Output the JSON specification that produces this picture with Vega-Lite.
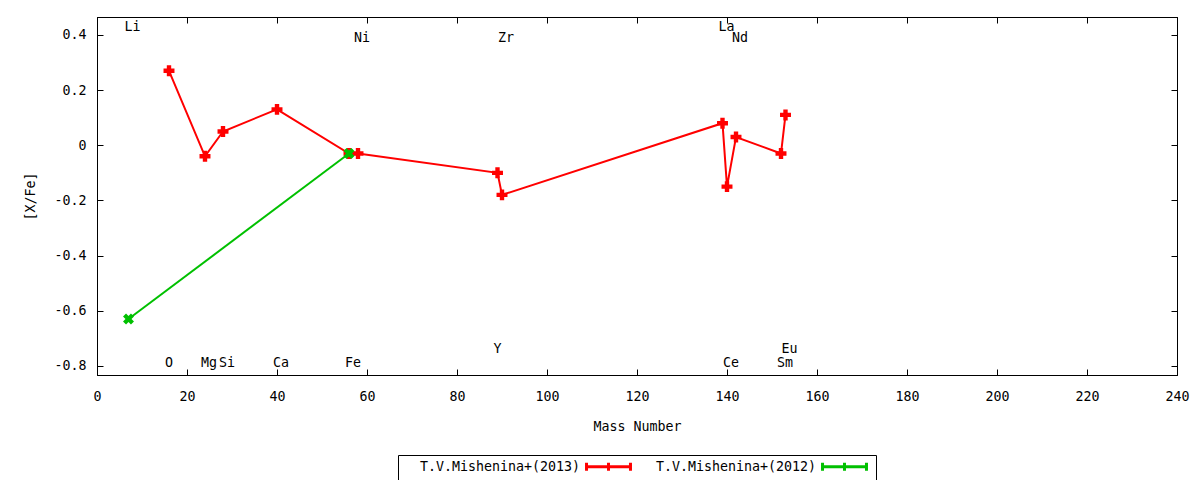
{
  "$schema": "https://vega.github.io/schema/vega-lite/v6.json",
  "width": 1080,
  "height": 358,
  "autosize": "none",
  "padding": {"left": 97, "top": 17, "right": 23, "bottom": 105},
  "background": "white",
  "config": {
    "font": "DejaVu Sans Mono",
    "view": {"stroke": "black", "strokeWidth": 1},
    "axis": {
      "domainColor": "black",
      "tickColor": "black",
      "tickSize": -6,
      "grid": false,
      "labelFlush": false,
      "labelFont": "DejaVu Sans Mono",
      "labelFontSize": 13.3,
      "labelColor": "black",
      "titleFont": "DejaVu Sans Mono",
      "titleFontSize": 13.3,
      "titleFontWeight": "normal",
      "titleColor": "black"
    },
    "legend": {
      "labelFont": "DejaVu Sans Mono",
      "labelFontSize": 13.3,
      "labelColor": "black",
      "labelLimit": 0
    }
  },
  "datasets": {
    "abund": [
      {"element": "O", "mass": 16, "xfe": 0.27, "series": "T.V.Mishenina+(2013)"},
      {"element": "Mg", "mass": 24, "xfe": -0.04, "series": "T.V.Mishenina+(2013)"},
      {"element": "Si", "mass": 28, "xfe": 0.05, "series": "T.V.Mishenina+(2013)"},
      {"element": "Ca", "mass": 40, "xfe": 0.13, "series": "T.V.Mishenina+(2013)"},
      {"element": "Fe", "mass": 56, "xfe": -0.03, "series": "T.V.Mishenina+(2013)"},
      {"element": "Ni", "mass": 58, "xfe": -0.03, "series": "T.V.Mishenina+(2013)"},
      {"element": "Y", "mass": 89, "xfe": -0.10, "series": "T.V.Mishenina+(2013)"},
      {"element": "Zr", "mass": 90, "xfe": -0.18, "series": "T.V.Mishenina+(2013)"},
      {"element": "La", "mass": 139, "xfe": 0.08, "series": "T.V.Mishenina+(2013)"},
      {"element": "Ce", "mass": 140, "xfe": -0.15, "series": "T.V.Mishenina+(2013)"},
      {"element": "Nd", "mass": 142, "xfe": 0.03, "series": "T.V.Mishenina+(2013)"},
      {"element": "Sm", "mass": 152, "xfe": -0.03, "series": "T.V.Mishenina+(2013)"},
      {"element": "Eu", "mass": 153, "xfe": 0.11, "series": "T.V.Mishenina+(2013)"},
      {"element": "Li", "mass": 7, "xfe": -0.63, "series": "T.V.Mishenina+(2012)"},
      {"element": "Fe", "mass": 56, "xfe": -0.03, "series": "T.V.Mishenina+(2012)"}
    ],
    "labels": [
      {"element": "Li", "mass": 7, "ypos": 0.429},
      {"element": "Ni", "mass": 58, "ypos": 0.389},
      {"element": "Zr", "mass": 90, "ypos": 0.389},
      {"element": "La", "mass": 139, "ypos": 0.429},
      {"element": "Nd", "mass": 142, "ypos": 0.389},
      {"element": "O", "mass": 16, "ypos": -0.789},
      {"element": "Mg", "mass": 24, "ypos": -0.789},
      {"element": "Si", "mass": 28, "ypos": -0.789},
      {"element": "Ca", "mass": 40, "ypos": -0.789},
      {"element": "Fe", "mass": 56, "ypos": -0.789},
      {"element": "Y", "mass": 89, "ypos": -0.738},
      {"element": "Ce", "mass": 140, "ypos": -0.789},
      {"element": "Sm", "mass": 152, "ypos": -0.789},
      {"element": "Eu", "mass": 153, "ypos": -0.738}
    ]
  },
  "layer": [
    {
      "data": {"name": "abund"},
      "mark": {"type": "line", "strokeWidth": 2},
      "encoding": {
        "x": {
          "field": "mass", "type": "quantitative",
          "scale": {"domain": [0, 240], "nice": false},
          "axis": {"values": [0, 20, 40, 60, 80, 100, 120, 140, 160, 180, 200, 220, 240],
                   "title": "Mass Number", "labelPadding": 20, "titlePadding": 17}
        },
        "y": {
          "field": "xfe", "type": "quantitative",
          "scale": {"domain": [-0.833, 0.465], "nice": false, "zero": false},
          "axis": {"values": [-0.8, -0.6, -0.4, -0.2, 0, 0.2, 0.4],
                   "labelExpr": "toString(round(datum.value * 10) / 10)",
                   "title": "[X/Fe]", "labelPadding": 17, "titlePadding": 16}
        },
        "stroke": {
          "field": "series", "type": "nominal",
          "scale": {"domain": ["T.V.Mishenina+(2013)", "T.V.Mishenina+(2012)"], "range": ["#ff0000", "#00c000"]},
          "legend": {
            "title": null,
            "orient": "none",
            "direction": "horizontal",
            "legendX": 301,
            "legendY": 438,
            "strokeColor": "black",
            "padding": 3,
            "symbolType": "M-3.14,0H3.14M-3.14,-0.57V0.57M3.14,-0.57V0.57M-0.5,0H0.5M0,-0.57V0.57",
            "symbolSize": 196,
            "symbolStrokeWidth": 3,
            "symbolOffset": 199,
            "labelOffset": -197,
            "columnPadding": 0
          }
        },
        "detail": {"field": "series"},
        "order": {"field": "mass", "type": "quantitative"}
      }
    },
    {
      "data": {"name": "abund"},
      "transform": [{"filter": "datum.series == 'T.V.Mishenina+(2013)'"}],
      "mark": {"type": "point", "filled": true, "size": 120, "opacity": 1, "shape": "cross", "color": "#ff0000"},
      "encoding": {
        "x": {"field": "mass", "type": "quantitative", "axis": null},
        "y": {"field": "xfe", "type": "quantitative", "axis": null}
      }
    },
    {
      "data": {"name": "abund"},
      "transform": [{"filter": "datum.series == 'T.V.Mishenina+(2012)'"}],
      "mark": {"type": "point", "filled": true, "size": 120, "opacity": 1, "color": "#00c000",
               "shape": "M-1,-0.45L-0.45,-1L0,-0.55L0.45,-1L1,-0.45L0.55,0L1,0.45L0.45,1L0,0.55L-0.45,1L-1,0.45L-0.55,0Z"},
      "encoding": {
        "x": {"field": "mass", "type": "quantitative", "axis": null},
        "y": {"field": "xfe", "type": "quantitative", "axis": null}
      }
    },
    {
      "data": {"name": "labels"},
      "mark": {"type": "text", "align": "left", "baseline": "middle", "dx": -4, "fontSize": 13.3, "font": "DejaVu Sans Mono", "color": "black"},
      "encoding": {
        "x": {
          "field": "mass", "type": "quantitative",
          "axis": {"orient": "top", "values": [0, 20, 40, 60, 80, 100, 120, 140, 160, 180, 200, 220, 240],
                   "labels": false, "title": null}
        },
        "y": {
          "field": "ypos", "type": "quantitative",
          "axis": {"orient": "right", "values": [-0.8, -0.6, -0.4, -0.2, 0, 0.2, 0.4],
                   "labels": false, "title": null}
        },
        "text": {"field": "element"}
      }
    }
  ],
  "resolve": {"axis": {"x": "independent", "y": "independent"}}
}
